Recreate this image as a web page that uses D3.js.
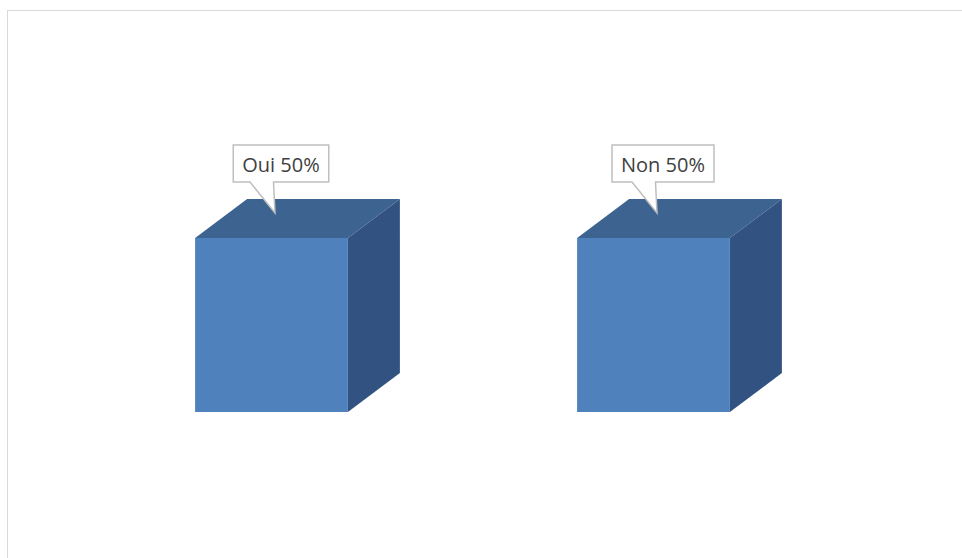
<!DOCTYPE html>
<html><head><meta charset="utf-8">
<script src="https://cdn.jsdelivr.net/npm/d3@7"></script>
<style>html,body{margin:0;padding:0;background:#fff;}svg{display:block;}</style>
</head><body>
<svg id="chart" width="962" height="558"></svg>
<script>
const categories = ["Oui", "Non"];
const values = [0.5, 0.5];
const labels = ["Oui 50%", "Non 50%"];

const svg = d3.select("#chart");

// chart area border
svg.append("rect").attr("x", 7.5).attr("y", 10.5).attr("width", 1000).attr("height", 600)
  .attr("fill", "#fff").attr("stroke", "#d9d9d9").attr("stroke-width", 1);

const x = d3.scaleBand().domain(categories).range([80.5, 844.5]).paddingInner(0.6).paddingOuter(0.3);
const y = d3.scaleLinear().domain([0, 0.6]).range([412, 203.2]);
const dx = 52, dy = -39;

const g = svg.append("g");
categories.forEach((c, i) => {
  const x0 = x(c), w = x.bandwidth(), y0 = y(0), y1 = y(values[i]);
  g.append("path").attr("d", `M${x0},${y1} L${x0+dx},${y1+dy} L${x0+w+dx},${y1+dy} L${x0+w},${y1} Z`)
    .attr("fill", "#3d6491");
  g.append("path").attr("d", `M${x0+w},${y1} L${x0+w+dx},${y1+dy} L${x0+w+dx},${y0+dy} L${x0+w},${y0} Z`)
    .attr("fill", "#325381");
  g.append("rect").attr("x", x0).attr("y", y1).attr("width", w).attr("height", y0 - y1)
    .attr("fill", "#4f81bd");
  // callout
  const cx = x0 + w / 2;
  const tipX = cx + 3.5, tipY = y1 - 25;
  const boxBottom = y1 - 56, boxTop = boxBottom - 37;
  const lg = svg.append("g");
  const t = lg.append("text").attr("font-family", "'Open Sans', 'Liberation Sans', sans-serif")
    .attr("font-size", 20).attr("fill", "#404040").attr("text-anchor", "middle")
    .attr("x", cx + 9.5).attr("y", boxBottom - 10).text(labels[i]);
  const tw = t.node().getComputedTextLength();
  const bl = cx + 9.5 - tw / 2 - 9, br = cx + 9.5 + tw / 2 + 9;
  const p1 = cx - 21.5, p2 = cx + 2;
  lg.insert("path", "text").attr("d",
    `M${bl},${boxTop} L${br},${boxTop} L${br},${boxBottom} L${p2},${boxBottom} L${tipX},${tipY} L${p1},${boxBottom} L${bl},${boxBottom} Z`)
    .attr("fill", "#fff").attr("stroke", "#bfbfbf").attr("stroke-width", 1.5);
});
</script>
</body></html>
